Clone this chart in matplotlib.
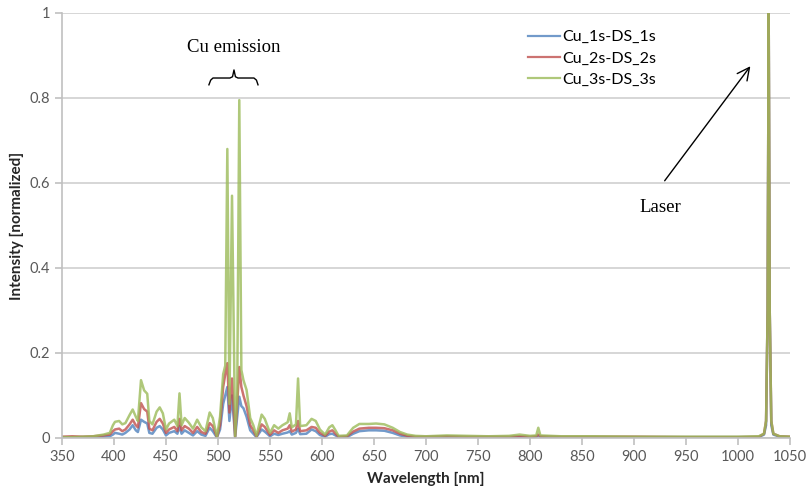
import matplotlib
matplotlib.use("Agg")
import matplotlib.pyplot as plt

# spectra (wavelength in nm, normalized intensity)
wavelength = [350, 360, 370, 380, 390, 396, 399, 401, 405, 408, 411, 415, 418, 421, 423,
              426, 429, 432, 434, 437, 441, 444, 447, 450, 453, 458, 461, 463, 465, 468,
              472, 476, 480, 484, 488, 492, 495, 499, 502, 505, 507, 509, 511, 513.5, 516.5,
              518.5, 520.5, 522.5, 524.5, 527.5, 531, 534, 537, 542, 545, 550, 554, 558, 562,
              567, 569, 571, 575, 577, 579, 585, 590, 594, 598, 603, 607, 610, 613, 616,
              624, 630, 636, 645, 652, 660, 668, 675, 682, 690, 700, 720, 740, 760, 780,
              790, 800, 806, 808, 810, 830, 860, 900, 950, 1000, 1020, 1025, 1027, 1028.5,
              1029.5, 1030.5, 1032, 1034, 1040, 1050]

cu_1s = [0.001, 0.001, 0.002, 0.002, 0.003, 0.004, 0.008, 0.012, 0.010, 0.008, 0.012, 0.020, 0.030, 0.018, 0.014,
         0.043, 0.038, 0.034, 0.012, 0.010, 0.024, 0.028, 0.020, 0.006, 0.012, 0.016, 0.010, 0.028, 0.010, 0.018,
         0.012, 0.006, 0.016, 0.008, 0.005, 0.024, 0.016, 0.001, 0.020, 0.080, 0.100, 0.120, 0.040, 0.100, 0.002,
         0.050, 0.097, 0.075, 0.070, 0.050, 0.018, 0.010, 0.002, 0.020, 0.015, 0.004, 0.010, 0.007, 0.010,
         0.013, 0.016, 0.008, 0.012, 0.022, 0.009, 0.010, 0.020, 0.016, 0.007, 0.003, 0.009, 0.010, 0.006, 0.002,
         0.002, 0.010, 0.016, 0.018, 0.018, 0.017, 0.012, 0.006, 0.003, 0.002, 0.002, 0.003, 0.002, 0.002, 0.002,
         0.003, 0.002, 0.003, 0.005, 0.003, 0.002, 0.002, 0.002, 0.002, 0.002, 0.002, 0.008, 0.030, 0.300,
         1.000, 0.300, 0.030, 0.008, 0.003, 0.002]

cu_2s = [0.003, 0.004, 0.003, 0.004, 0.006, 0.008, 0.016, 0.020, 0.022, 0.016, 0.020, 0.032, 0.043, 0.030, 0.025,
         0.082, 0.068, 0.062, 0.022, 0.018, 0.038, 0.045, 0.034, 0.012, 0.020, 0.026, 0.016, 0.045, 0.018, 0.028,
         0.022, 0.012, 0.026, 0.014, 0.010, 0.035, 0.028, 0.002, 0.030, 0.120, 0.150, 0.176, 0.060, 0.140, 0.003,
         0.080, 0.167, 0.120, 0.100, 0.075, 0.030, 0.018, 0.003, 0.032, 0.026, 0.007, 0.018, 0.012, 0.018,
         0.022, 0.030, 0.015, 0.020, 0.040, 0.016, 0.018, 0.026, 0.024, 0.012, 0.005, 0.015, 0.018, 0.010, 0.003,
         0.004, 0.015, 0.022, 0.024, 0.024, 0.023, 0.018, 0.010, 0.005, 0.003, 0.003, 0.004, 0.003, 0.003, 0.003,
         0.004, 0.003, 0.004, 0.008, 0.004, 0.003, 0.003, 0.003, 0.002, 0.002, 0.003, 0.010, 0.040, 0.300,
         1.000, 0.300, 0.040, 0.010, 0.004, 0.003]

cu_3s = [0.002, 0.002, 0.003, 0.004, 0.008, 0.012, 0.030, 0.038, 0.040, 0.032, 0.035, 0.054, 0.067, 0.050, 0.040,
         0.136, 0.112, 0.104, 0.040, 0.032, 0.062, 0.072, 0.058, 0.020, 0.034, 0.043, 0.028, 0.105, 0.030, 0.047,
         0.036, 0.022, 0.043, 0.025, 0.016, 0.060, 0.047, 0.003, 0.050, 0.150, 0.170, 0.680, 0.080, 0.570, 0.004,
         0.100, 0.795, 0.160, 0.136, 0.113, 0.047, 0.030, 0.005, 0.055, 0.045, 0.012, 0.030, 0.022, 0.030,
         0.037, 0.058, 0.025, 0.032, 0.140, 0.028, 0.030, 0.045, 0.040, 0.020, 0.008, 0.025, 0.030, 0.018, 0.005,
         0.006, 0.024, 0.033, 0.033, 0.034, 0.032, 0.024, 0.014, 0.008, 0.005, 0.004, 0.006, 0.005, 0.004, 0.005,
         0.008, 0.005, 0.006, 0.024, 0.006, 0.004, 0.004, 0.003, 0.003, 0.003, 0.004, 0.010, 0.040, 0.300,
         1.000, 0.300, 0.040, 0.010, 0.004, 0.003]

labels = ["Cu_1s-DS_1s", "Cu_2s-DS_2s", "Cu_3s-DS_3s"]
colors = ["#4F81BD", "#C0504D", "#9BBB59"]

fig = plt.figure(figsize=(8.11, 4.92), dpi=100)
ax = fig.add_axes([0.0764, 0.1098, 0.8977, 0.8638])

for vals, lab, c in zip([cu_1s, cu_2s, cu_3s], labels, colors):
    ax.plot(wavelength, vals, color=c, lw=1.8, label=lab, alpha=0.8)

ax.set_xlim(350, 1050)
ax.set_ylim(0, 1)
ax.set_xticks(range(350, 1051, 50))
ax.set_yticks([0, 0.2, 0.4, 0.6, 0.8, 1])
ax.set_yticklabels(["0", "0.2", "0.4", "0.6", "0.8", "1"])
ax.grid(axis="y", color="#D0D0D0", lw=1.2)
ax.set_axisbelow(True)
for s in ["top", "right"]:
    ax.spines[s].set_visible(False)
for s in ["left", "bottom"]:
    ax.spines[s].set_color("#C0C0C0")
    ax.spines[s].set_linewidth(1.2)
ax.tick_params(colors="#C0C0C0", labelcolor="#595959", length=5, width=1.2,
               labelsize=10.5)
for t in ax.get_xticklabels() + ax.get_yticklabels():
    t.set_family("Lato")

ax.set_xlabel("Wavelength [nm]", fontsize=11, fontweight="bold", family="Lato",
              color="#262626", labelpad=6)
ax.set_ylabel("Intensity [normalized]", fontsize=11, fontweight="bold", family="Lato",
              color="#262626", labelpad=4)

leg = ax.legend(loc="upper left", frameon=False,
                prop={"family": "Lato", "size": 11.5}, handlelength=2.0,
                handletextpad=0.1, labelspacing=0.45, borderaxespad=0)
leg.set_bbox_to_anchor((0.632, 0.975), transform=ax.transAxes)
for h in leg.get_lines():
    h.set_linewidth(1.6)

# annotations
ax.text(515, 0.918, "Cu emission", ha="center", va="center", fontsize=13.5,
        family="Liberation Serif")
brace_x = [491.3, 493, 495.2, 511.5, 514, 515.4, 516.8, 519.2, 534.6, 537, 538.5]
brace_y = [0.831, 0.842, 0.847, 0.847, 0.850, 0.866, 0.850, 0.847, 0.847, 0.842, 0.831]
ax.plot(brace_x, brace_y, color="black", lw=1)

ax.annotate("", xy=(1013.5, 0.88), xytext=(927.9, 0.60),
            arrowprops=dict(arrowstyle="->", color="black", lw=1, mutation_scale=22))
ax.text(925, 0.543, "Laser", ha="center", va="center", fontsize=13.5,
        family="Liberation Serif")

fig.savefig("out.png", dpi=100)
